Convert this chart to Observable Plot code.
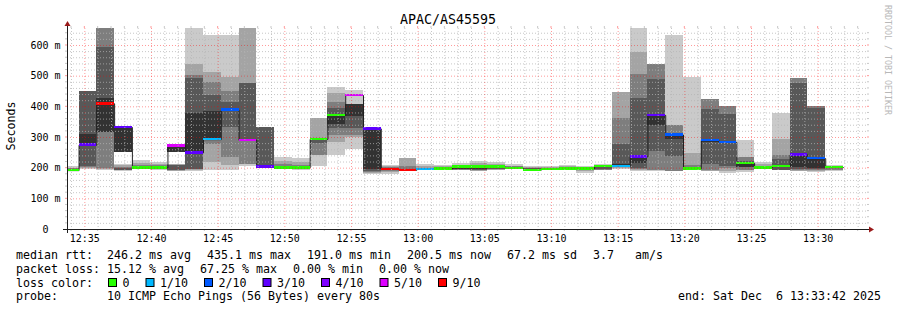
<!DOCTYPE html>
<html><head><meta charset="utf-8">
<script src="https://cdn.jsdelivr.net/npm/d3@7"></script>
<script src="https://cdn.jsdelivr.net/npm/@observablehq/plot@0.6"></script>
<style>
body{margin:0;background:#fff;}
#wrap{position:relative;width:897px;height:310px;overflow:hidden;background:#fff}
#chart{position:absolute;left:0;top:0;width:897px}
#overlay{position:absolute;left:0;top:0}
</style></head><body>
<div id="wrap"><div id="chart"></div><svg id="overlay" width="897" height="310"></svg></div>
<script>
// ---------------- data ----------------
const day = "2025-12-06";
const startTime = "12:33:42", endTime = "13:33:42";
const stepSeconds = 80;
const times = ["12:33:14","12:34:34","12:35:54","12:37:14","12:38:34","12:39:54","12:41:14","12:42:34","12:43:54","12:45:14",
 "12:46:34","12:47:54","12:49:14","12:50:34","12:51:54","12:53:14","12:54:34","12:55:54","12:57:14","12:58:34",
 "12:59:54","13:01:14","13:02:34","13:03:54","13:05:14","13:06:34","13:07:54","13:09:14","13:10:34","13:11:54",
 "13:13:14","13:14:34","13:15:54","13:17:14","13:18:34","13:19:54","13:21:14","13:22:34","13:23:54","13:25:14",
 "13:26:34","13:27:54","13:29:14","13:30:34"];
// median rtt (ms)
const median = [192,275,410,333,201,201,273,250,293,389, 291,203,201,201,294,372,437,328,196,193,
 196,197,203,204,203,199,193,196,198,198, 206,206,237,372,308,198,290,284,216,201, 206,243,231,202];
// lost pings out of 10
const lossCount = [0,3,9,3,0,0,5,3,1,2, 5,3,0,0,0,0,5,3,9,9, 1,0,0,0,0,0,0,0,0,0, 0,1,3,3,2,0,2,2,0,0, 0,3,2,0];
// smoke bands (ms), outermost (1) to innermost (5)
const smokeLo1 = [188,196,193,190,195,194,189,190,192,191, 205,198,196,194,206,242,262,180,179,189, 193,193,192,189,192,195,190,192,193,183, 192,196,190,190,190,193,190,183,187,196, 192,190,187,190];
const smokeHi1 = [205,450,700,213,224,219,212,700,633,633, 700,332,235,231,361,463,452,200,209,233, 212,208,216,222,217,212,204,204,209,207, 213,448,700,538,633,495,423,401,290,219, 379,493,401,209];
const smokeLo2 = [189,199,195,191,196,196,190,193,218,208, 213,198,197,195,241,285,300,183,185,191, 194,194,193,190,194,196,191,193,194,190, 193,198,192,191,null,196,190,188,192,197, 194,190,190,191];
const smokeHi2 = [200,450,700,210,215,212,211,539,512,494, 700,332,222,218,361,445,409,198,205,233, 205,204,210,214,212,206,201,201,204,202, 210,448,578,538,null,247,423,401,236,212, 293,493,401,206];
const smokeLo3 = [190,202,198,192,197,197,191,195,278,235, 213,199,198,196,241,306,306,186,190,192, 195,195,194,192,195,197,192,194,195,193, 194,205,195,192,190,197,192,198,194,198, 195,191,193,192];
const smokeHi3 = [198,450,700,202,210,208,210,501,479,449, 475,332,212,210,290,415,409,198,202,205, 200,202,206,208,207,204,199,199,201,200, 205,363,505,538,339,210,423,401,236,206, 241,493,401,203];
const smokeLo4 = [191,205,315,193,198,198,192,197,292,333, 292,200,199,197,279,330,328,190,193,null, null,196,195,193,197,198,193,null,null,null, 195,205,200,254,238,null,212,205,201,null, 193,195,197,null];
const smokeHi4 = [197,450,593,199,205,205,208,491,438,414, 475,332,206,205,293,393,409,198,200,null, null,201,202,203,203,203,198,null,null,null, 202,277,426,488,312,null,390,376,222,null, 227,477,394,null];
const smokeLo5 = [192,272,315,252,199,199,252,254,296,385, 289,200,200,198,290,344,368,197,null,null, null,null,197,195,199,null,null,null,null,null, null,205,216,339,295,null,285,280,203,null, null,203,200,null];
const smokeHi5 = [196,311,428,330,203,203,270,379,386,392, 293,206,204,203,294,373,409,326,null,null, null,null,201,201,202,null,null,null,null,null, null,212,236,372,306,null,290,285,214,null, null,240,228,null];
const smokeColors = ["#cacaca","#a4a4a4","#7e7e7e","#585858","#323232"];

const lossLabels = ["0","1/10","2/10","3/10","4/10","5/10","9/10"];
const lossColors = ["#26ff00","#00b8ff","#0059ff","#5e00ff","#7e00ff","#dd00ff","#ff0000"];

const yMax = 655.4;
const yTicks = [0,100,200,300,400,500,600];
const yTickLabels = ["0\u00a0\u00a0","100 m","200 m","300 m","400 m","500 m","600 m"];
const xTickLabels = ["12:35","12:40","12:45","12:50","12:55","13:00","13:05","13:10","13:15","13:20","13:25","13:30"];

const title = "APAC/AS45595";
const yLabel = "Seconds";
const rttHead = "median rtt:";
const rttStats = ["246.2 ms avg","435.1 ms max","191.0 ms min","200.5 ms now","67.2 ms sd","3.7\u00a0\u00a0\u00a0am/s"];
const lossHead = "packet loss:";
const lossStats = ["15.12 % avg","67.25 % max","0.00 % min","0.00 % now"];
const colorHead = "loss color:";
const probeHead = "probe:";
const probeText = "10 ICMP Echo Pings (56 Bytes) every 80s";
const endText = "end: Sat Dec\u00a0\u00a06 13:33:42 2025";
const watermark = "RRDTOOL / TOBI OETIKER";

// ---------------- build ----------------
const toDate = t => new Date(`${day}T${t}Z`);
const xStart = toDate(startTime), xEnd = toDate(endTime);
const smokeLo = [smokeLo1,smokeLo2,smokeLo3,smokeLo4,smokeLo5];
const smokeHi = [smokeHi1,smokeHi2,smokeHi3,smokeHi4,smokeHi5];
const lossColor = n => lossColors[Math.min(n, 6)];
const rows = times.map((t, i) => {
  const t0 = toDate(t);
  return {i, t0, t1: new Date(+t0 + stepSeconds * 1000), median: median[i], loss: lossCount[i]};
});
const medPts = rows.map(r => ({t: r.t0, v: r.median})).concat([{t: rows[rows.length-1].t1, v: rows[rows.length-1].median}]);

const H = 245, MT = 28, MB = 16, ML = 67, MR = 30;
const msPerPx = yMax / (H - MT - MB);
const medHalf = 1.25 * msPerPx;

const minorY = d3.range(20, yMax, 20).filter(v => v % 100 !== 0);
const majorY = d3.range(100, yMax, 100);
const minutes = d3.utcMinute.range(xStart, xEnd);
const minorX = minutes.filter(d => d.getUTCMinutes() % 5 !== 0);
const majorX = minutes.filter(d => d.getUTCMinutes() % 5 === 0);
const xTicks = xTickLabels.map(l => toDate(l + ":00"));

const gridMinor = {stroke: "#b4b4b4", strokeOpacity: 0.75, strokeDasharray: "1,2"};
const gridMajor = {stroke: "#ff0000", strokeOpacity: 0.4, strokeDasharray: "1,2"};

const bandMarks = smokeColors.map((c, k) => Plot.rect(rows.filter(r => smokeLo[k][r.i] != null), {
  x1: "t0", x2: "t1", y1: r => smokeLo[k][r.i], y2: r => smokeHi[k][r.i],
  fill: c, clip: true, shapeRendering: "crispEdges"
}));

const plot = Plot.plot({
  width: 897, height: H,
  marginLeft: ML, marginRight: MR, marginTop: MT, marginBottom: MB,
  x: {type: "utc", domain: [xStart, xEnd]},
  y: {domain: [0, yMax]},
  color: {type: "identity"},
  style: {fontFamily: "'DejaVu Sans Mono', monospace", fontSize: "10px", color: "#000", background: "transparent", overflow: "visible"},
  marks: [
    ...bandMarks,
    Plot.line(medPts, {x: "t", y: "v", curve: "step-after", stroke: "#202020", strokeWidth: 1, clip: true}),
    Plot.rect(rows, {x1: "t0", x2: "t1", y1: r => r.median - medHalf, y2: r => r.median + medHalf,
      fill: r => lossColor(r.loss), clip: true, shapeRendering: "crispEdges"}),
    Plot.ruleY(minorY, gridMinor),
    Plot.ruleX(minorX, gridMinor),
    Plot.ruleY(majorY, gridMajor),
    Plot.ruleX(majorX, gridMajor),
    Plot.axisY(yTicks, {tickSize: 0, tickPadding: 7, label: null, tickFormat: v => yTickLabels[yTicks.indexOf(v)]}),
    Plot.axisX(xTicks, {tickSize: 0, tickPadding: 5, label: null, tickFormat: d3.utcFormat("%H:%M")})
  ]
});
document.getElementById("chart").appendChild(plot);

// axis decorations via the plot's scales
const sx = plot.scale("x"), sy = plot.scale("y");
const X0 = sx.apply(xStart), X1 = sx.apply(xEnd), Y0 = sy.apply(0), Y1 = sy.apply(yMax);
const g = d3.select(plot).append("g");
function seg(x1, y1, x2, y2, color, op) {
  g.append("line").attr("x1", x1).attr("y1", y1).attr("x2", x2).attr("y2", y2)
   .attr("stroke", color).attr("stroke-opacity", op).attr("stroke-width", 1);
}
minorY.forEach(v => { const y = sy.apply(v); seg(X0-2, y, X0, y, "#b4b4b4", 0.75); seg(X1, y, X1+2, y, "#b4b4b4", 0.75); });
majorY.forEach(v => { const y = sy.apply(v); seg(X0-2, y, X0, y, "#ff0000", 0.4); seg(X1, y, X1+2, y, "#ff0000", 0.4); });
minorX.forEach(d => { const x = sx.apply(d); seg(x, Y1-2, x, Y1, "#b4b4b4", 0.75); seg(x, Y0, x, Y0+2, "#b4b4b4", 0.75); });
majorX.forEach(d => { const x = sx.apply(d); seg(x, Y1-2, x, Y1, "#ff0000", 0.4); seg(x, Y0, x, Y0+2, "#ff0000", 0.4); });
seg(X0-4, Y0+0.5, X1+4, Y0+0.5, "#1e1e1e", 1);
seg(X0+0.5, Y0+4, X0+0.5, Y1-4, "#1e1e1e", 1);
g.append("path").attr("d", `M${X1+2},${Y0+0.5-3}L${X1+2},${Y0+0.5+3}L${X1+7},${Y0+0.5}Z`).attr("fill", "#9a1a1a");
g.append("path").attr("d", `M${X0+0.5-3},${Y1-2}L${X0+0.5+3},${Y1-2}L${X0+0.5},${Y1-7}Z`).attr("fill", "#9a1a1a");

// ---------------- texts: title, axis label, legend ----------------
const ov = d3.select("#overlay");
const mono = "'DejaVu Sans Mono', monospace";
const LF = 11.63, CW = 7.0;
function txt(x, y, s, size, opts = {}) {
  const t = ov.append("text").attr("x", x).attr("y", y).attr("font-family", mono)
    .attr("font-size", size).attr("fill", opts.fill || "#000").style("white-space", "pre").text(s);
  if (opts.anchor) t.attr("text-anchor", opts.anchor);
  if (opts.transform) t.attr("transform", opts.transform);
  return t;
}
txt(448, 24, title, 13.3, {anchor: "middle"});
txt(0, 0, yLabel, LF, {anchor: "middle", transform: "translate(15,126) rotate(-90)"});
txt(0, 0, watermark, 8.3, {anchor: "middle", fill: "#b8b8b8", transform: "translate(884.5,60) rotate(90)"});

const col0 = 16, col1 = 107, gap = 16;
const base = [258.5, 272.5, 286.5, 300.3];
txt(col0, base[0], rttHead, LF);
let x = col1;
rttStats.forEach(s => { txt(x, base[0], s, LF); x += s.length * CW + gap; });
txt(col0, base[1], lossHead, LF);
x = col1;
lossStats.forEach(s => { txt(x, base[1], s, LF); x += s.length * CW + gap; });
txt(col0, base[2], colorHead, LF);
x = 108;
lossLabels.forEach((l, k) => {
  ov.append("rect").attr("x", x + 0.5).attr("y", 278.5).attr("width", 8).attr("height", 8)
    .attr("fill", lossColors[k]).attr("stroke", "#000").attr("stroke-width", 1);
  txt(x + 14.5, base[2], l, LF);
  x += 14.5 + l.length * CW + 16;
});
txt(col0, base[3], probeHead, LF);
txt(col1, base[3], probeText, LF);
txt(881, base[3], endText, LF, {anchor: "end"});
</script>
</body></html>
